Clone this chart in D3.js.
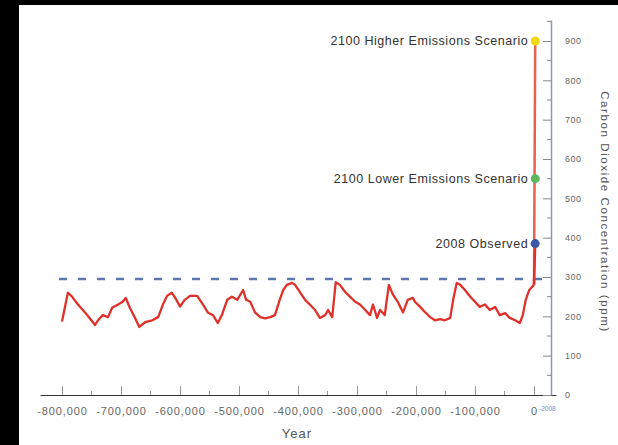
<!DOCTYPE html>
<html>
<head>
<meta charset="utf-8">
<script src="https://cdn.jsdelivr.net/npm/d3@7"></script>
<style>
  body { margin: 0; background: #000; }
  text { font-family: "Liberation Sans", Arial, sans-serif; }
</style>
</head>
<body>
<div id="chart"></div>
<script>
// ice core record, years (thousands of years before 1950, negative) and CO2 ppm
var kyears = [-800, -790, -783, -773, -761, -753, -744, -739, -731, -722, -715, -705, -697, -692, -685, -676, -669, -659, -647, -637, -629, -622, -614,
  -608, -600, -592, -583, -571, -561, -553, -544, -536, -529, -520, -512, -503, -493, -488, -481, -473, -464, -456, -447, -439, -431, -425, -419, -410,
  -405, -397, -388, -380, -371, -363, -354, -349, -342, -336, -329, -320, -312, -303, -295, -286, -278, -273, -266, -261, -253, -246, -239, -231, -222, -214, -205,
  -202, -193, -185, -176, -168, -159, -151, -142, -137, -131, -125, -117, -108, -100, -92, -83, -75, -66, -58, -49, -41, -32, -24, -19, -14, -8, -3, 0];
var co2 = [187, 260, 250, 230, 210, 195, 178, 190, 203, 198, 222, 230, 237, 247, 222, 195, 173, 185, 190, 198, 230, 252, 260,
  247, 225, 242, 252, 252, 230, 210, 203, 183, 203, 242, 250, 242, 267, 242, 237, 210, 198, 195, 198, 203, 242, 267, 280, 285,
  280, 262, 242, 230, 216, 196, 203, 216, 198, 287, 280, 262, 250, 237, 230, 216, 203, 230, 196, 216, 203, 280, 255, 237, 210, 242, 247,
  237, 224, 211, 198, 190, 193, 190, 196, 242, 285, 280, 267, 250, 237, 224, 230, 216, 224, 203, 208, 196, 190, 183, 203, 242, 267, 275, 280];

// modern values (calendar years)
var pointYears = [2008, 2100, 2100];
var pointValues = [385, 550, 900];
var pointLabels = ['2008 Observed', '2100 Lower Emissions Scenario', '2100 Higher Emissions Scenario'];
var pointColors = ['#3b58a8', '#5cb85c', '#f2d813'];

var preIndustrial = 295;
var xTicks = [-800000, -700000, -600000, -500000, -400000, -300000, -200000, -100000, 0];
var yTicks = [0, 100, 200, 300, 400, 500, 600, 700, 800, 900];

var w = 618, h = 445;
var svg = d3.select('#chart').append('svg')
    .attr('width', w)
    .attr('height', h);

svg.append('rect')
    .attr('x', 19).attr('y', 5)
    .attr('width', w - 19).attr('height', h - 5)
    .attr('fill', '#fff');

// scales
var x = d3.scaleLinear().domain([-800000, 0]).range([62, 534]);
var y = d3.scaleLinear().domain([0, 900]).range([395, 41]);

var xAxisScale = x.copy().domain([x.invert(40), x.invert(556)]).range([40, 556]);
var yAxisScale = y.copy().domain([0, y.invert(20)]).range([395, 20]);

// x axis
var gx = svg.append('g')
    .attr('transform', 'translate(0,395)')
    .call(d3.axisBottom(xAxisScale)
        .tickValues(xTicks)
        .tickSizeInner(-9).tickSizeOuter(0)
        .tickPadding(12)
        .tickFormat(function(d) { return d === 0 ? '0' : d3.format(',')(d).replace('−', '-'); }));
gx.select('.domain').attr('stroke', '#333');
gx.selectAll('.tick line').attr('stroke', '#999');
gx.selectAll('.tick text').attr('fill', '#666').attr('font-size', '11px').attr('letter-spacing', '0.9px');

// minor x ticks
svg.append('g').selectAll('line')
    .data(d3.range(-750000, 0, 100000)).enter()
    .append('line')
    .attr('x1', function(d) { return x(d); })
    .attr('x2', function(d) { return x(d); })
    .attr('y1', 395).attr('y2', 391)
    .attr('stroke', '#999');

// tiny 2008 marker next to zero
svg.append('text')
    .attr('x', 539).attr('y', 411)
    .attr('font-size', '6.5px')
    .attr('fill', '#6b8fd6')
    .text('-2008');

svg.append('text')
    .attr('x', 297).attr('y', 438)
    .attr('text-anchor', 'middle')
    .attr('font-size', '13px')
    .attr('letter-spacing', '1px')
    .attr('fill', '#555')
    .text('Year');

// y axis on the right
var gy = svg.append('g')
    .attr('transform', 'translate(551,0)')
    .call(d3.axisRight(yAxisScale)
        .tickValues(yTicks)
        .tickSizeInner(-8).tickSizeOuter(0)
        .tickPadding(14));
gy.select('.domain').attr('stroke', '#8a98b8').attr('stroke-width', 1.5);
gy.selectAll('.tick line').attr('stroke', '#888');
gy.selectAll('.tick text').attr('fill', '#666').attr('font-size', '9px').attr('letter-spacing', '0.5px');

svg.append('g').selectAll('line')
    .data(d3.range(50, 951, 100)).enter()
    .append('line')
    .attr('x1', 551).attr('x2', 547)
    .attr('y1', function(d) { return y(d); })
    .attr('y2', function(d) { return y(d); })
    .attr('stroke', '#888');

svg.append('text')
    .attr('transform', 'translate(601,212) rotate(90)')
    .attr('text-anchor', 'middle')
    .attr('font-size', '11.5px')
    .attr('letter-spacing', '1.6px')
    .attr('fill', '#555')
    .text('Carbon Dioxide Concentration (ppm)');

// pre-industrial dashed line
svg.append('line')
    .attr('x1', 59).attr('x2', 553)
    .attr('y1', y(preIndustrial)).attr('y2', y(preIndustrial))
    .attr('stroke', '#5b78b0')
    .attr('stroke-width', 2.5)
    .attr('stroke-dasharray', '8,11');

// projection line
var last = kyears.length - 1;
svg.append('line')
    .attr('x1', x(0)).attr('x2', x(pointYears[2]))
    .attr('y1', y(co2[last])).attr('y2', y(pointValues[2]))
    .attr('stroke', '#e8604e')
    .attr('stroke-width', 2.5);

// ice core record
var line = d3.line()
    .x(function(d, i) { return x(kyears[i] * 1000); })
    .y(function(d) { return y(d); });

svg.append('path')
    .datum(co2)
    .attr('d', line)
    .attr('fill', 'none')
    .attr('stroke', '#e0302a')
    .attr('stroke-width', 2.3)
    .attr('stroke-linejoin', 'round');

svg.append('line')
    .attr('x1', x(0)).attr('x2', x(pointYears[0]))
    .attr('y1', y(co2[last])).attr('y2', y(pointValues[0]))
    .attr('stroke', '#e0302a')
    .attr('stroke-width', 2.5);

// scenario points
var pts = svg.selectAll('g.pt')
    .data(pointValues).enter()
    .append('g')
    .attr('class', 'pt');

pts.append('circle')
    .attr('cx', function(d, i) { return x(pointYears[i]); })
    .attr('cy', function(d) { return y(d); })
    .attr('r', 4.5)
    .attr('fill', function(d, i) { return pointColors[i]; });

pts.append('text')
    .attr('x', function(d, i) { return x(pointYears[i]) - 7; })
    .attr('y', function(d) { return y(d); })
    .attr('dy', '0.35em')
    .attr('text-anchor', 'end')
    .attr('font-size', '12.5px')
    .attr('letter-spacing', '0.55px')
    .attr('fill', '#333')
    .text(function(d, i) { return pointLabels[i]; });
</script>
</body>
</html>
